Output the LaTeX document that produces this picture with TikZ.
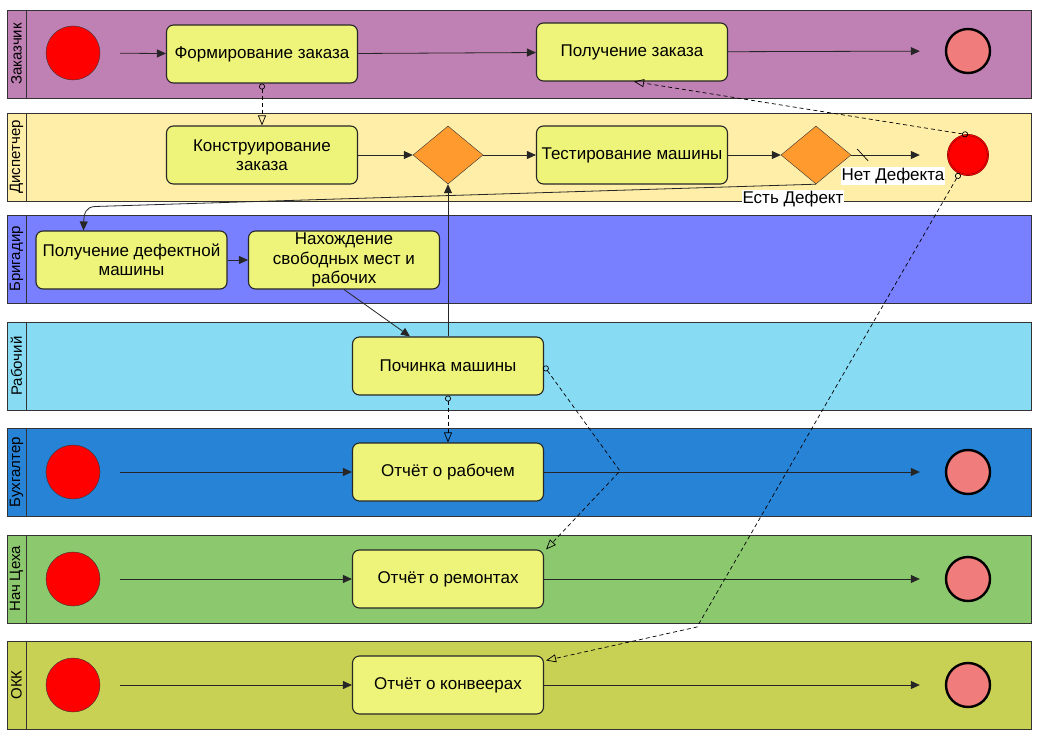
\documentclass[tikz,border=0pt]{standalone}
\usepackage{fontspec}
\setmainfont{Liberation Sans}
\usetikzlibrary{arrows.meta,positioning,shapes.geometric}

\begin{document}
\begin{tikzpicture}[
        x=1pt,y=-1pt,
        task/.style={draw=black!85,line width=1.1pt,rounded corners=7pt,fill=taskfill,
            minimum width=191pt,minimum height=58pt,inner sep=1pt,align=center,
            font=\fontsize{17}{19.5}\selectfont},
        startev/.style={circle,draw=black!80,fill=red,minimum size=54pt,inner sep=0pt},
        endev/.style={circle,draw=black,line width=2.4pt,fill=endfill,minimum size=44pt,inner sep=0pt},
        msgev/.style={circle,draw=black!60!red,double=red,double distance=1pt,fill=red,
            minimum size=40pt,inner sep=0pt},
        gw/.style={diamond,draw=black!80,fill=gwfill,minimum width=70pt,minimum height=58pt,inner sep=0pt},
        lanelabel/.style={rotate=90,font=\fontsize{15}{17}\selectfont},
        flowlabel/.style={fill=white,inner sep=1pt,font=\fontsize{17}{19}\selectfont},
        flow/.style={line width=0.8pt,draw=black!85,-{Triangle[length=9pt,width=8pt]}},
        msg/.style={line width=0.7pt,dashed,dash pattern=on 4pt off 3pt,
            {Circle[open,length=6pt,width=6pt]}-{Triangle[open,length=10pt,width=8pt]}}
    ]
    \definecolor{taskfill}{HTML}{EEF47A}
    \definecolor{gwfill}{HTML}{FF9A2E}
    \definecolor{endfill}{HTML}{F07C7C}
    \definecolor{lanezak}{HTML}{BF80B3}
    \definecolor{lanedisp}{HTML}{FFEEA8}
    \definecolor{lanebrig}{HTML}{7880FF}
    \definecolor{lanerab}{HTML}{87DCF4}
    \definecolor{lanebuh}{HTML}{2783D6}
    \definecolor{lanenach}{HTML}{8CC86E}
    \definecolor{laneokk}{HTML}{C8D154}

    \fill[white] (0,0) rectangle (1041,741);
    \useasboundingbox (0,0) rectangle (1041,741);

    % swimlanes
    \foreach \ytop/\col/\name [count=\i] in {10/lanezak/Заказчик,113/lanedisp/Диспетчер,
            215/lanebrig/Бригадир,322/lanerab/Рабочий,428/lanebuh/Бухгалтер,
            535/lanenach/Нач Цеха,641/laneokk/ОКК}
    {
        \draw[fill=\col,draw=black!80,line width=0.9pt] (7,\ytop) rectangle (1031,\ytop+88);
        \draw[black!80,line width=0.9pt] (26,\ytop) -- (26,\ytop+88);
        \node[lanelabel] (lane\i) at (16.5,\ytop+44) {\name};
    }

    % Заказчик
    \node[startev] (szak)   at (73,53)  {};
    \node[task]    (formir) at (262,54) {Формирование заказа};
    \node[task]    (poluch) at (632,52) {Получение заказа};
    \node[endev]   (ezak)   at (968,51) {};
    \draw[flow,shorten <=20pt] (szak) -- (formir);
    \draw[flow] (formir) -- (poluch);
    \draw[flow,shorten >=25pt] (poluch) -- (ezak);

    % Диспетчер
    \node[task]  (konstr) at (262,155) {Конструирование\\заказа};
    \node[gw]    (gw1)    at (448,155) {};
    \node[task]  (test)   at (632,155) {Тестирование машины};
    \node[gw]    (gw2)    at (816,155) {};
    \node[msgev] (edisp)  at (968,155) {};
    \draw[flow] (konstr) -- (gw1);
    \draw[flow] (gw1) -- (test);
    \draw[flow] (test) -- (gw2);
    \draw[flow,shorten >=28pt] (gw2) -- (edisp);
    \draw[line width=0.7pt] ([xshift=6pt,yshift=6pt]gw2.east) -- ([xshift=17pt,yshift=-6pt]gw2.east);
    \node[flowlabel] (netdef) at (893,176) {Нет Дефекта};

    % Бригадир
    \node[task] (poluchdef) at (131.5,260) {Получение дефектной\\машины};
    \node[task] (nahozh)    at (344,260)   {Нахождение\\свободных мест и\\рабочих};
    \draw[flow] (poluchdef) -- (nahozh);
    \coordinate (bend) at (95,206.5);
    \draw[flow] (gw2.south) -- (bend) .. controls (86,207) and (84,213) .. ([xshift=-48pt]poluchdef.north);
    \node[flowlabel] (estdef) at (793,199) {Есть Дефект};

    % Рабочий
    \node[task] (pochinka) at (448,366) {Починка машины};
    \draw[flow] (nahozh.south) -- ([xshift=-38pt]pochinka.north);
    \draw[flow] (pochinka) -- (gw1);

    % Бухгалтер, Нач Цеха, ОКК
    \foreach \y/\n/\t in {472/rab/{Отчёт о рабочем},579/rem/{Отчёт о ремонтах},685/konv/{Отчёт о конвеерах}}
    {
        \node[startev] (s\n)    at (73,\y)  {};
        \node[task]    (otch\n) at (448,\y) {\t};
        \node[endev]   (e\n)    at (968,\y) {};
        \draw[flow,shorten <=20pt] (s\n) -- (otch\n);
        \draw[flow,shorten >=25pt] (otch\n) -- (e\n);
    }

    % message flows
    \coordinate (k1) at (620,471);
    \coordinate (k2) at (697,627);
    \draw[msg] (formir) -- (konstr);
    \draw[msg] (edisp.north) -- ([xshift=2pt]poluch.south);
    \draw[msg] (pochinka) -- (otchrab);
    \draw[msg] (pochinka.east) -- (k1) -- ([xshift=2pt]otchrem.north east);
    \draw[msg] (edisp.-115) -- (k2) -- ([xshift=2pt,yshift=-5pt]otchkonv.north east);
\end{tikzpicture}
\end{document}
